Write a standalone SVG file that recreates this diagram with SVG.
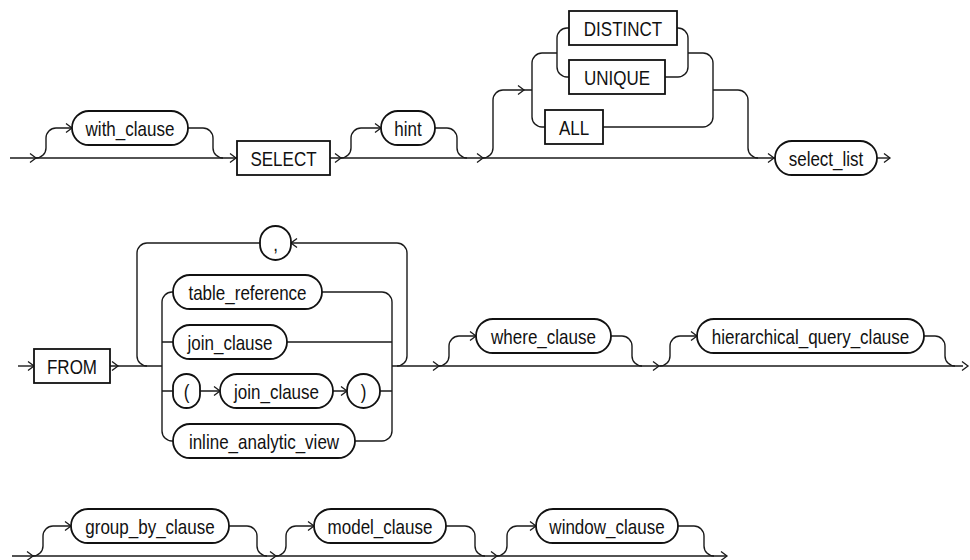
<svg xmlns="http://www.w3.org/2000/svg" xmlns:xlink="http://www.w3.org/1999/xlink" width="970" height="560" viewBox="0 0 970 560">
<style>
.ln{fill:none;stroke:#1a1a1a;stroke-width:1.4}
.ar{fill:none;stroke:#1a1a1a;stroke-width:1.3}
.nd{fill:#fff;stroke:#111;stroke-width:1.8}
.t{font-family:"Liberation Sans",Arial,sans-serif;font-size:21px;fill:#111;text-anchor:middle}
</style>
<defs>
<path id="ar" class="ar" d="M-6,-4.5 L0,0 L-6,4.5"/>
</defs>
<rect width="970" height="560" fill="#fff"/>
<g id="connectors">
<path class="ln" d="M10,158 H237"/>
<path class="ln" d="M36,158 A10,10 0 0 0 46,148 V138 A10,10 0 0 1 56,128 H72"/>
<path class="ln" d="M188,128 H203 A10,10 0 0 1 213,138 V148 A10,10 0 0 0 223,158"/>
<path class="ln" d="M330,158 H775"/>
<path class="ln" d="M341,158 A10,10 0 0 0 351,148 V138 A10,10 0 0 1 361,128 H381"/>
<path class="ln" d="M435,128 H447 A10,10 0 0 1 457,138 V148 A10,10 0 0 0 467,158"/>
<path class="ln" d="M483,158 A10,10 0 0 0 493,148 V100 A10,10 0 0 1 503,90 H532"/>
<path class="ln" d="M545,127 H542 A10,10 0 0 1 532,117 V63 A10,10 0 0 1 542,53 H557"/>
<path class="ln" d="M569,28 H567 A10,10 0 0 0 557,38 V67 A10,10 0 0 0 567,77 H569"/>
<path class="ln" d="M677,28 H678 A10,10 0 0 1 688,38 V67 A10,10 0 0 1 678,77 H665"/>
<path class="ln" d="M688,53 H703 A10,10 0 0 1 713,63 V117 A10,10 0 0 1 703,127 H603"/>
<path class="ln" d="M713,90 H738 A10,10 0 0 1 748,100 V148 A10,10 0 0 0 758,158"/>
<path class="ln" d="M877,158 H890"/>
<use xlink:href="#ar" x="36" y="158"/>
<use xlink:href="#ar" x="72" y="128"/>
<use xlink:href="#ar" x="236" y="158"/>
<use xlink:href="#ar" x="341" y="158"/>
<use xlink:href="#ar" x="381" y="128"/>
<use xlink:href="#ar" x="483" y="158"/>
<use xlink:href="#ar" x="524" y="90"/>
<use xlink:href="#ar" x="774" y="158"/>
<use xlink:href="#ar" x="890" y="158"/>
<path class="ln" d="M18,366 H34"/>
<path class="ln" d="M110,366 H162"/>
<path class="ln" d="M147,366 A10,10 0 0 1 137,356 V253 A10,10 0 0 1 147,243 H260"/>
<path class="ln" d="M291,243 H397 A10,10 0 0 1 407,253 V356 A10,10 0 0 1 397,366"/>
<path class="ln" d="M173,292 H172 A10,10 0 0 0 162,302 V431 A10,10 0 0 0 172,441 H173"/>
<path class="ln" d="M162,342 H173 M162,391 H173"/>
<path class="ln" d="M200,391 H220 M333,391 H347"/>
<path class="ln" d="M322,292 H382 A10,10 0 0 1 392,302 V431 A10,10 0 0 1 382,441 H355"/>
<path class="ln" d="M287,342 H392 M380,391 H392"/>
<path class="ln" d="M392,366 H963"/>
<path class="ln" d="M439,366 A10,10 0 0 0 449,356 V346 A10,10 0 0 1 459,336 H476"/>
<path class="ln" d="M611,336 H622 A10,10 0 0 1 632,346 V356 A10,10 0 0 0 642,366"/>
<path class="ln" d="M660,366 A10,10 0 0 0 670,356 V346 A10,10 0 0 1 680,336 H697"/>
<path class="ln" d="M924,336 H935 A10,10 0 0 1 945,346 V356 A10,10 0 0 0 955,366"/>
<use xlink:href="#ar" x="34" y="366"/>
<use xlink:href="#ar" x="118" y="366"/>
<use xlink:href="#ar" x="291" y="243" transform="rotate(180 291 243)"/>
<use xlink:href="#ar" x="220" y="391"/>
<use xlink:href="#ar" x="347" y="391"/>
<use xlink:href="#ar" x="439" y="366"/>
<use xlink:href="#ar" x="476" y="336"/>
<use xlink:href="#ar" x="659" y="366"/>
<use xlink:href="#ar" x="697" y="336"/>
<use xlink:href="#ar" x="968" y="366"/>
<path class="ln" d="M12,556 H727"/>
<path class="ln" d="M33,556 A10,10 0 0 0 43,546 V536 A10,10 0 0 1 53,526 H71"/>
<path class="ln" d="M229,526 H247 A10,10 0 0 1 257,536 V546 A10,10 0 0 0 267,556"/>
<path class="ln" d="M276,556 A10,10 0 0 0 286,546 V536 A10,10 0 0 1 296,526 H314"/>
<path class="ln" d="M446,526 H465 A10,10 0 0 1 475,536 V546 A10,10 0 0 0 485,556"/>
<path class="ln" d="M497,556 A10,10 0 0 0 507,546 V536 A10,10 0 0 1 517,526 H536"/>
<path class="ln" d="M678,526 H694 A10,10 0 0 1 704,536 V546 A10,10 0 0 0 714,556"/>
<use xlink:href="#ar" x="33" y="556"/>
<use xlink:href="#ar" x="71" y="526"/>
<use xlink:href="#ar" x="276" y="556"/>
<use xlink:href="#ar" x="314" y="526"/>
<use xlink:href="#ar" x="497" y="556"/>
<use xlink:href="#ar" x="536" y="526"/>
<use xlink:href="#ar" x="727" y="556"/>
</g>
<g id="with_clause"><rect class="nd" x="72" y="111" width="116" height="34" rx="17"/><text class="t" transform="translate(130,135.5) scale(0.81,1)">with_clause</text></g>
<g id="select"><rect class="nd" x="237" y="141" width="93" height="34"/><text class="t" transform="translate(283.5,165.5) scale(0.81,1)">SELECT</text></g>
<g id="hint"><rect class="nd" x="381" y="111" width="54" height="34" rx="17"/><text class="t" transform="translate(408,135.5) scale(0.81,1)">hint</text></g>
<g id="distinct"><rect class="nd" x="569" y="11" width="108" height="34"/><text class="t" transform="translate(623,35.5) scale(0.81,1)">DISTINCT</text></g>
<g id="unique"><rect class="nd" x="569" y="60" width="96" height="34"/><text class="t" transform="translate(617,84.5) scale(0.81,1)">UNIQUE</text></g>
<g id="all"><rect class="nd" x="545" y="110" width="58" height="34"/><text class="t" transform="translate(574,134.5) scale(0.81,1)">ALL</text></g>
<g id="select_list"><rect class="nd" x="775" y="141" width="102" height="34" rx="17"/><text class="t" transform="translate(826,165.5) scale(0.81,1)">select_list</text></g>
<g id="from"><rect class="nd" x="34" y="349" width="76" height="34"/><text class="t" transform="translate(72,373.5) scale(0.81,1)">FROM</text></g>
<g id="comma"><rect class="nd" x="260" y="226" width="31" height="34" rx="15.5"/><text class="t" transform="translate(275.5,250.5) scale(0.81,1)">,</text></g>
<g id="table_reference"><rect class="nd" x="173" y="275" width="149" height="34" rx="17"/><text class="t" transform="translate(247.5,299.5) scale(0.81,1)">table_reference</text></g>
<g id="join_clause_1"><rect class="nd" x="173" y="325" width="114" height="34" rx="17"/><text class="t" transform="translate(230,349.5) scale(0.81,1)">join_clause</text></g>
<g id="lparen"><rect class="nd" x="173" y="374" width="27" height="34" rx="13.5"/><text class="t" transform="translate(186.5,398.5) scale(0.81,1)">(</text></g>
<g id="join_clause_2"><rect class="nd" x="220" y="374" width="113" height="34" rx="17"/><text class="t" transform="translate(276.5,398.5) scale(0.81,1)">join_clause</text></g>
<g id="rparen"><rect class="nd" x="347" y="374" width="33" height="34" rx="16.5"/><text class="t" transform="translate(363.5,398.5) scale(0.81,1)">)</text></g>
<g id="inline_analytic_view"><rect class="nd" x="173" y="424" width="182" height="34" rx="17"/><text class="t" transform="translate(264,448.5) scale(0.81,1)">inline_analytic_view</text></g>
<g id="where_clause"><rect class="nd" x="476" y="319" width="135" height="34" rx="17"/><text class="t" transform="translate(543.5,343.5) scale(0.81,1)">where_clause</text></g>
<g id="hierarchical_query_clause"><rect class="nd" x="697" y="319" width="227" height="34" rx="17"/><text class="t" transform="translate(810.5,343.5) scale(0.81,1)">hierarchical_query_clause</text></g>
<g id="group_by_clause"><rect class="nd" x="71" y="509" width="158" height="34" rx="17"/><text class="t" transform="translate(150,533.5) scale(0.81,1)">group_by_clause</text></g>
<g id="model_clause"><rect class="nd" x="314" y="509" width="132" height="34" rx="17"/><text class="t" transform="translate(380,533.5) scale(0.81,1)">model_clause</text></g>
<g id="window_clause"><rect class="nd" x="536" y="509" width="142" height="34" rx="17"/><text class="t" transform="translate(607,533.5) scale(0.81,1)">window_clause</text></g>
</svg>
